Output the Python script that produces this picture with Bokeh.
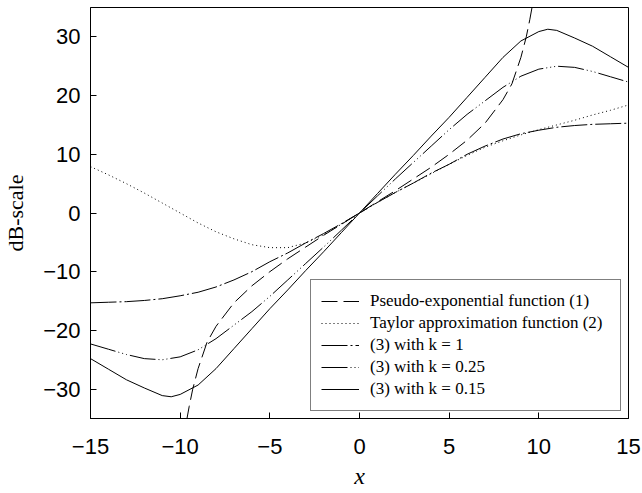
from bokeh.plotting import figure
from bokeh.models import Range1d, FixedTicker, Legend, LegendItem
from bokeh.embed import file_html
from bokeh.resources import INLINE

# ---- data ----
x_int = list(range(-15, 16))

taylor_y = [7.9, 6.5, 5.0, 3.4, 1.7, 0.0, -1.7, -3.2, -4.4, -5.4, -5.9, -5.9, -5.1, -3.7, -1.9,
            0.0, 1.8, 3.5, 5.1, 6.7, 8.3, 9.8, 11.2, 12.3, 13.3, 14.2, 15.0, 15.8, 16.7, 17.5, 18.4]

k1_y = [-15.3, -15.2, -15.1, -14.9, -14.6, -14.1, -13.5, -12.6, -11.4, -10.0, -8.3, -6.8, -5.1, -3.5, -1.8,
        0.0, 1.8, 3.5, 5.1, 6.8, 8.3, 10.0, 11.4, 12.6, 13.5, 14.1, 14.6, 14.9, 15.1, 15.2, 15.3]

k025_y = [-22.3, -23.2, -24.1, -24.8, -25.0, -24.5, -23.3, -21.4, -19.1, -16.8, -14.2, -11.4, -8.6, -5.8, -2.9,
          0.0, 2.9, 5.8, 8.6, 11.4, 14.2, 16.8, 19.1, 21.4, 23.3, 24.5, 25.0, 24.8, 24.1, 23.2, 22.3]

k015_x = [-15, -14, -13, -12, -11, -10.5, -10, -9, -8, -7, -6, -5, -4, -3, -2, -1,
          0, 1, 2, 3, 4, 5, 6, 7, 8, 9, 10, 10.5, 11, 12, 13, 14, 15]
k015_y = [-24.8, -26.6, -28.4, -29.8, -31.1, -31.3, -30.9, -29.3, -26.5, -23.1, -19.7, -16.3, -13.1, -9.8, -6.6, -3.3,
          0.0, 3.3, 6.6, 9.8, 13.1, 16.3, 19.7, 23.1, 26.5, 29.3, 30.9, 31.3, 31.1, 29.8, 28.4, 26.6, 24.8]

pseudo_x = [-9.65, -9.5, -9.3, -9.0, -8.5, -8, -7, -6, -5, -4, -3, -2, -1,
            0, 1, 2, 3, 4, 5, 6, 7, 8, 8.5, 9.0, 9.3, 9.5, 9.65]
pseudo_y = [-35.5, -33.0, -30.0, -26.5, -22.0, -19.3, -15.3, -12.4, -10.0, -7.8, -5.8, -3.8, -1.9,
            0.0, 1.9, 3.8, 5.8, 7.8, 10.0, 12.4, 15.3, 19.3, 22.0, 26.5, 30.0, 33.0, 35.5]

x_ticks = [-15, -10, -5, 0, 5, 10, 15]
y_ticks = [-30, -20, -10, 0, 10, 20, 30]

labels = ["Pseudo-exponential function (1)",
          "Taylor approximation function (2)",
          "(3) with k = 1",
          "(3) with k = 0.25",
          "(3) with k = 0.15"]

# ---- figure ----
p = figure(width=642, height=493, output_backend="svg", toolbar_location=None,
           x_range=Range1d(-15, 15), y_range=Range1d(-35, 35),
           min_border_left=89, min_border_right=14, min_border_top=7, min_border_bottom=75)
p.background_fill_color = "white"
p.border_fill_color = "white"
p.outline_line_color = "black"
p.outline_line_width = 1
p.xgrid.visible = False
p.ygrid.visible = False

for ax, ticks in ((p.xaxis[0], x_ticks), (p.yaxis[0], y_ticks)):
    ax.ticker = FixedTicker(ticks=ticks)
    ax.major_tick_in = 6
    ax.major_tick_out = 0
    ax.minor_tick_line_color = None
    ax.axis_line_color = "black"
    ax.major_tick_line_color = "black"
    ax.major_label_text_font = "Liberation Sans"
    ax.major_label_text_font_size = "22px"
    ax.major_label_text_color = "black"
    ax.axis_label_text_font = "Liberation Serif"
    ax.axis_label_text_font_size = "22px"
    ax.axis_label_text_color = "black"

p.xaxis.major_label_standoff = 20
p.xaxis.axis_label = "x"
p.xaxis.axis_label_text_font_style = "italic"
p.xaxis.axis_label_text_font_size = "24px"
p.xaxis.axis_label_standoff = 6
p.yaxis.major_label_standoff = 10
p.yaxis.axis_label = "dB-scale"
p.yaxis.axis_label_text_font_style = "normal"
p.yaxis.axis_label_standoff = 12

r1 = p.line(pseudo_x, pseudo_y, line_color="black", line_width=1, line_dash="16 6")
r2 = p.line(x_int, taylor_y, line_color="black", line_width=1, line_dash="1 3")
r3 = p.line(x_int, k1_y, line_color="black", line_width=1, line_dash="26 3 2 3")
r4 = p.line(x_int, k025_y, line_color="black", line_width=1, line_dash="26 3 1 3 1 3 1 3")
r5 = p.line(k015_x, k015_y, line_color="black", line_width=1)

legend = Legend(items=[LegendItem(label=l, renderers=[r]) for l, r in zip(labels, [r1, r2, r3, r4, r5])],
                location="bottom_right")
legend.margin = 7
legend.padding = 10
legend.spacing = 0
legend.glyph_width = 38
legend.glyph_height = 22
legend.label_height = 22
legend.label_width = 240
legend.label_standoff = 11
legend.label_text_font = "Liberation Serif"
legend.label_text_font_size = "17px"
legend.label_text_color = "black"
legend.border_line_color = "black"
legend.border_line_width = 1
legend.background_fill_color = "white"
legend.background_fill_alpha = 1
p.add_layout(legend, "center")

open("out.html", "w").write(file_html(p, INLINE))
